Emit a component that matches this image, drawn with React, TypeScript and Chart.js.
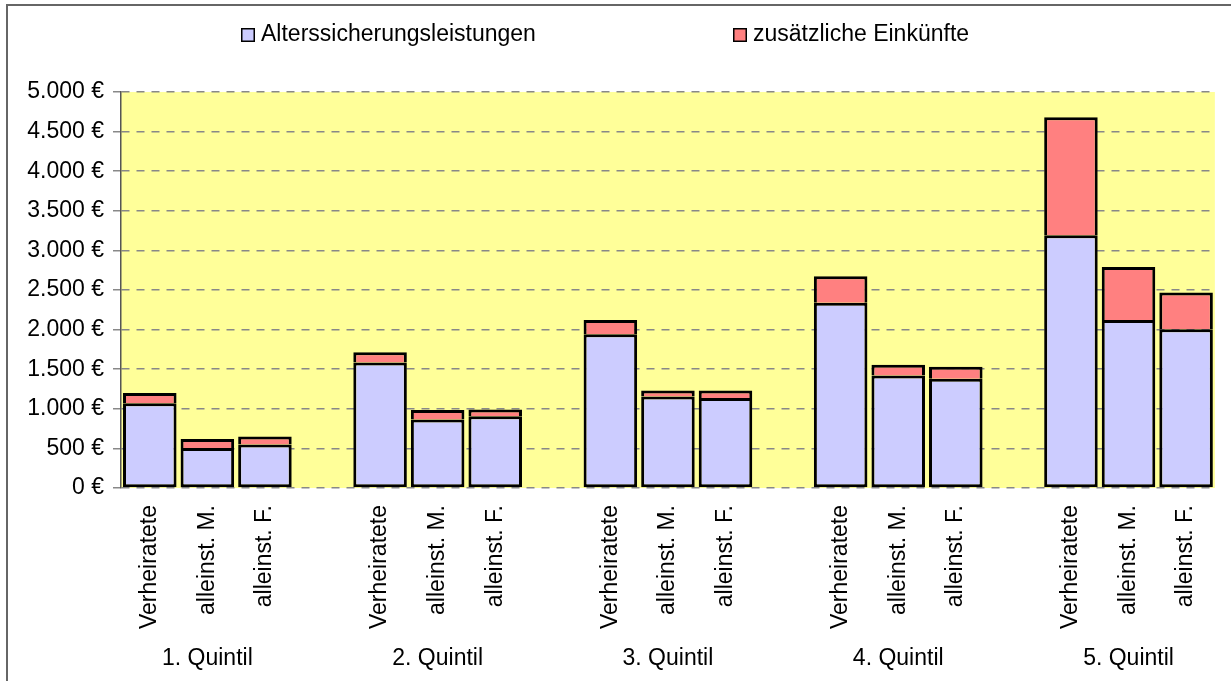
import React, { useEffect, useRef } from 'react';
import { Chart, registerables } from 'chart.js';

Chart.register(...registerables);

// ---- data ----
const quintile = ['1. Quintil', '2. Quintil', '3. Quintil', '4. Quintil', '5. Quintil'];
const household = ['Verheiratete', 'alleinst. M.', 'alleinst. F.'];
const seriesNames = ['Alterssicherungsleistungen', 'zusätzliche Einkünfte'];
// per quintile: Verheiratete, alleinst. M., alleinst. F.
const alterssicherung = [
  1070, 505, 550,
  1585, 865, 905,
  1940, 1155, 1135,
  2340, 1420, 1380,
  3190, 2120, 2005,
];
const zusaetzlich = [
  130, 115, 100,
  130, 120, 85,
  180, 75, 95,
  335, 135, 150,
  1490, 670, 465,
];
const yMin = 0;
const yMax = 5000;
const yStep = 500;

// build slots: 3 bars per quintile, an empty slot between quintiles
const slotLabels: string[] = [];
const quintilSlots: string[] = [];
const dataA: (number | null)[] = [];
const dataB: (number | null)[] = [];
quintile.forEach((q, qi) => {
  household.forEach((h, hi) => {
    slotLabels.push(h);
    quintilSlots.push(hi === 1 ? q : '');
    dataA.push(alterssicherung[qi * 3 + hi]);
    dataB.push(zusaetzlich[qi * 3 + hi]);
  });
  if (qi < quintile.length - 1) {
    slotLabels.push('');
    quintilSlots.push('');
    dataA.push(null);
    dataB.push(null);
  }
});

const FONT = "'Liberation Sans', Arial, sans-serif";
const BLUE = '#CCCCFF';
const RED = '#FF8080';
const YELLOW = '#FFFF99';

const fmt = (v: number) => String(v).replace(/\B(?=(\d{3})+(?!\d))/g, '.') + ' €';

const backgroundPlugin = {
  id: 'bgPlugin',
  beforeDraw(chart: any) {
    const { ctx, chartArea, width, height } = chart;
    ctx.save();
    ctx.fillStyle = '#ffffff';
    ctx.fillRect(0, 0, width, height);
    // outer frame (top and left visible)
    ctx.strokeStyle = '#666666';
    ctx.lineWidth = 2;
    ctx.beginPath();
    ctx.moveTo(7, height + 5);
    ctx.lineTo(7, 5);
    ctx.lineTo(width + 5, 5);
    ctx.stroke();
    // plot background
    ctx.fillStyle = YELLOW;
    ctx.fillRect(chartArea.left, chartArea.top, chartArea.right - chartArea.left, chartArea.bottom - chartArea.top);
    ctx.restore();
  },
};

const legendPlugin = {
  id: 'customLegend',
  afterDraw(chart: any) {
    const { ctx } = chart;
    const xs = [241, 733];
    ctx.save();
    ctx.font = `23px ${FONT}`;
    ctx.textBaseline = 'alphabetic';
    ctx.textAlign = 'left';
    chart.data.datasets.forEach((ds: any, i: number) => {
      const x = xs[i];
      ctx.fillStyle = ds.backgroundColor;
      ctx.fillRect(x, 28, 14, 14);
      ctx.strokeStyle = '#000';
      ctx.lineWidth = 1.5;
      ctx.strokeRect(x + 0.75, 28.75, 12.5, 12.5);
      ctx.fillStyle = '#000';
      ctx.fillText(ds.label, x + 20, 41);
    });
    ctx.restore();
  },
};

export default function App() {
  const ref = useRef<HTMLCanvasElement | null>(null);
  useEffect(() => {
    if (!ref.current) return;
    const chart = new Chart(ref.current, {
      type: 'bar',
      data: {
        labels: slotLabels,
        datasets: [
          {
            label: seriesNames[0],
            data: dataA,
            backgroundColor: BLUE,
            borderColor: '#000',
            borderWidth: 3,
            borderSkipped: false,
            stack: 's',
            barPercentage: 0.93,
            categoryPercentage: 1,
          },
          {
            label: seriesNames[1],
            data: dataB,
            backgroundColor: RED,
            borderColor: '#000',
            borderWidth: 3,
            borderSkipped: 'start',
            stack: 's',
            barPercentage: 0.93,
            categoryPercentage: 1,
          },
        ],
      },
      options: {
        responsive: false,
        animation: false,
        events: [],
        layout: { padding: { top: 92, left: 8, right: 12, bottom: 8 } },
        plugins: {
          legend: { display: false },
          tooltip: { enabled: false },
        },
        scales: {
          x: {
            stacked: true,
            offset: true,
            weight: 0,
            grid: { display: false, drawTicks: false },
            border: { display: false },
            ticks: {
              autoSkip: false,
              maxRotation: 90,
              minRotation: 90,
              padding: 17,
              color: '#000',
              font: { family: FONT, size: 23 },
            },
            afterFit: (s: any) => { s.height = 145; },
          },
          x2: {
            type: 'category',
            labels: quintilSlots,
            position: 'bottom',
            offset: true,
            weight: 1,
            grid: { display: false, drawTicks: false },
            border: { display: false },
            ticks: {
              autoSkip: false,
              maxRotation: 0,
              minRotation: 0,
              padding: 12,
              color: '#000',
              font: { family: FONT, size: 23 },
            },
            afterFit: (s: any) => { s.height = 40; },
          },
          y: {
            stacked: true,
            min: yMin,
            max: yMax,
            ticks: {
              stepSize: yStep,
              padding: 9,
              color: '#000',
              font: { family: FONT, size: 23 },
              callback: (v: any) => fmt(Number(v)),
            },
            grid: {
              color: '#888888',
              lineWidth: 1.5,
              tickLength: 8,
              tickColor: '#888888',
            },
            border: { display: true, color: '#555555', width: 1.5, dash: [8, 7] },
            afterFit: (s: any) => { s.width = 113; },
          },
        },
      },
      plugins: [backgroundPlugin, legendPlugin],
    } as any);
    return () => chart.destroy();
  }, []);
  return (
    <div style={{ position: 'fixed', left: 0, top: 0, width: 1231, height: 681, background: '#fff' }}>
      <canvas ref={ref} width={1231} height={681} style={{ display: 'block' }} />
    </div>
  );
}
